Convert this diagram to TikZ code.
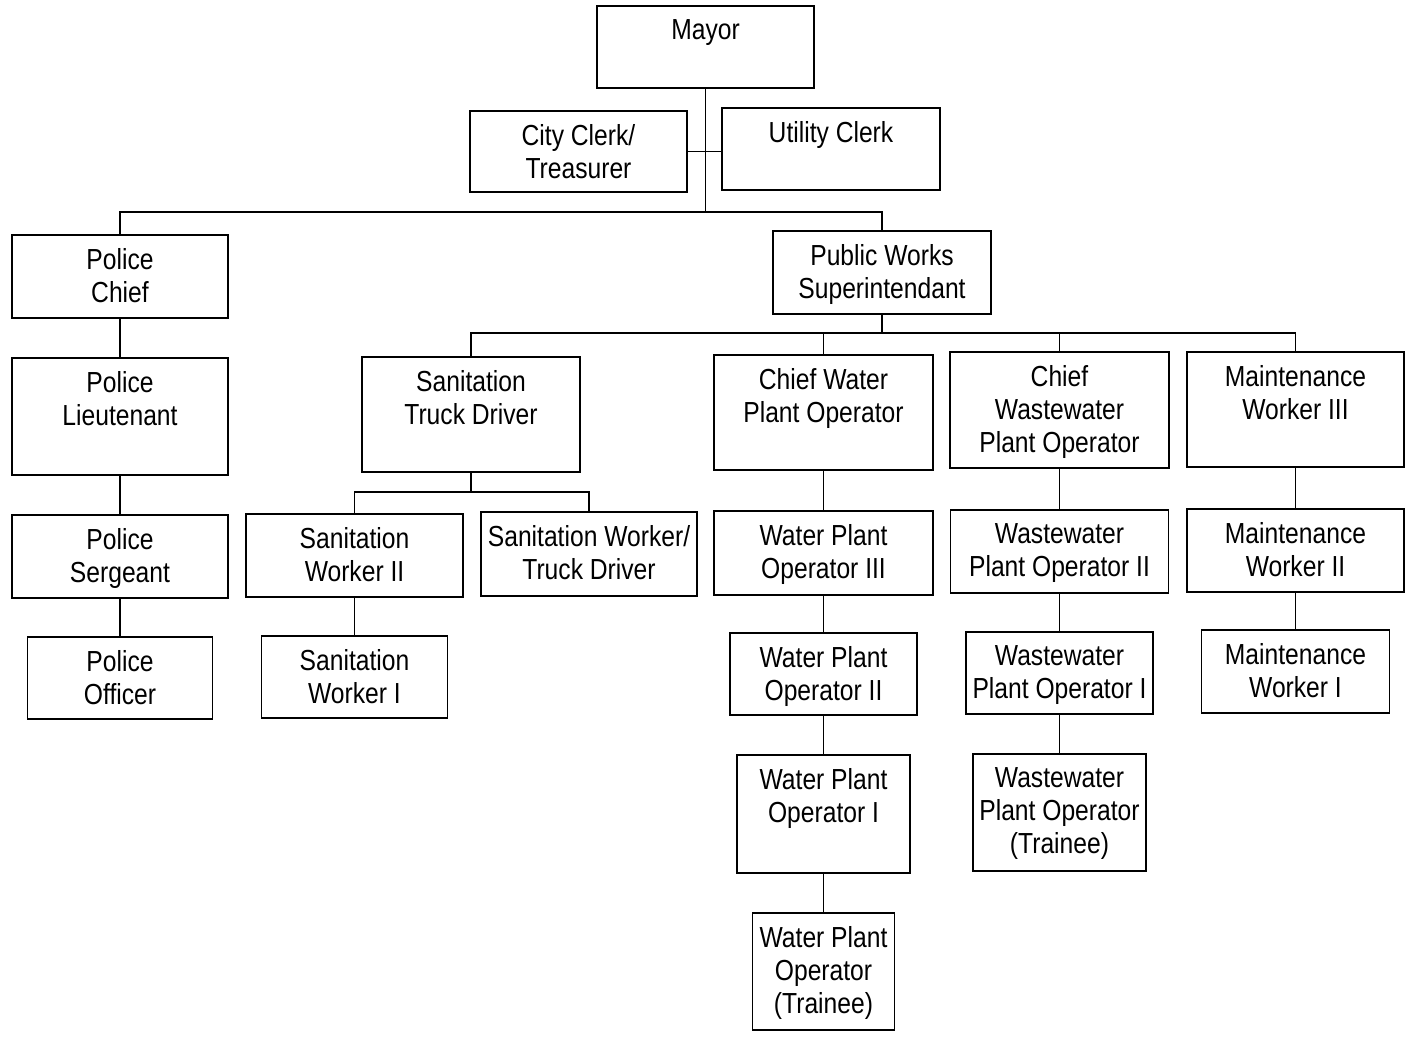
\documentclass[tikz,border=0pt]{standalone}
\usepackage{fontspec}
\setmainfont{Liberation Sans}[FakeStretch=0.85]
\usepackage{tikz}
\tikzset{
  post/.style={draw=black, line width=1.1pt, rectangle, inner sep=0pt},
  lab/.style={anchor=north, inner sep=0pt, yshift=-0.28cm, align=center,
    font=\fontsize{16.5}{18.8}\selectfont},
  link/.style={draw=black, line width=1.1pt},
}

\begin{document}
\begin{tikzpicture}[x=0.02cm, y=-0.02cm]
  \useasboundingbox (0,0) rectangle (1407,1036);

  % top level
  \node[post, minimum width=4.34cm, minimum height=1.64cm,
    label={[lab]north:Mayor}] (mayor) at (705.5,47) {};
  \node[post, minimum width=4.34cm, minimum height=1.62cm,
    label={[lab]north:{City Clerk/\\Treasurer}}] (clerk) at (578.5,151.5) {};
  \node[post, minimum width=4.36cm, minimum height=1.64cm,
    label={[lab]north:Utility Clerk}] (utility) at (831,149) {};

  % police
  \node[post, minimum width=4.32cm, minimum height=1.66cm,
    label={[lab]north:{Police\\Chief}}] (chief) at (120,276.5) {};
  \node[post, minimum width=4.32cm, minimum height=2.34cm,
    label={[lab]north:{Police\\Lieutenant}}] (lieut) at (120,416.5) {};
  \node[post, minimum width=4.32cm, minimum height=1.66cm,
    label={[lab]north:{Police\\Sergeant}}] (sergeant) at (120,556.5) {};
  \node[post, minimum width=3.70cm, minimum height=1.64cm,
    label={[lab]north:{Police\\Officer}}] (officer) at (120,678) {};

  % public works
  \node[post, minimum width=4.36cm, minimum height=1.66cm,
    label={[lab]north:{Public Works\\Superintendant}}] (pws) at (882,272.5) {};

  % sanitation
  \node[post, minimum width=4.36cm, minimum height=2.30cm,
    label={[lab]north:{Sanitation\\Truck Driver}}] (santd) at (471,414.5) {};
  \node[post, minimum width=4.34cm, minimum height=1.66cm,
    label={[lab]north:{Sanitation\\Worker II}}] (sw2) at (354.5,555.5) {};
  \node[post, minimum width=4.32cm, minimum height=1.68cm,
    label={[lab]north:{Sanitation Worker/\\Truck Driver}}] (swtd) at (589,554) {};
  \node[post, minimum width=3.72cm, minimum height=1.64cm,
    label={[lab]north:{Sanitation\\Worker I}}] (sw1) at (354.5,677) {};

  % water
  \node[post, minimum width=4.38cm, minimum height=2.30cm,
    label={[lab]north:{Chief Water\\Plant Operator}}] (cwo) at (823.5,412.5) {};
  \node[post, minimum width=4.38cm, minimum height=1.68cm,
    label={[lab]north:{Water Plant\\Operator III}}] (wpo3) at (823.5,553) {};
  \node[post, minimum width=3.74cm, minimum height=1.64cm,
    label={[lab]north:{Water Plant\\Operator II}}] (wpo2) at (823.5,674) {};
  \node[post, minimum width=3.46cm, minimum height=2.36cm,
    label={[lab]north:{Water Plant\\Operator I}}] (wpo1) at (823.5,814) {};
  \node[post, minimum width=2.84cm, minimum height=2.34cm,
    label={[lab]north:{Water Plant\\Operator\\(Trainee)}}] (wpot) at (823.5,971.5) {};

  % wastewater
  \node[post, minimum width=4.38cm, minimum height=2.32cm,
    label={[lab]north:{Chief\\Wastewater\\Plant Operator}}] (cwwo) at (1059.5,410) {};
  \node[post, minimum width=4.36cm, minimum height=1.66cm,
    label={[lab]north:{Wastewater\\Plant Operator II}}] (wwpo2) at (1059.5,551.5) {};
  \node[post, minimum width=3.74cm, minimum height=1.64cm,
    label={[lab]north:{Wastewater\\Plant Operator I}}] (wwpo1) at (1059.5,673) {};
  \node[post, minimum width=3.46cm, minimum height=2.34cm,
    label={[lab]north:{Wastewater\\Plant Operator\\(Trainee)}}] (wwpot) at (1059.5,812.5) {};

  % maintenance
  \node[post, minimum width=4.34cm, minimum height=2.30cm,
    label={[lab]north:{Maintenance\\Worker III}}] (mw3) at (1295.5,409.5) {};
  \node[post, minimum width=4.34cm, minimum height=1.66cm,
    label={[lab]north:{Maintenance\\Worker II}}] (mw2) at (1295.5,550.5) {};
  \node[post, minimum width=3.76cm, minimum height=1.66cm,
    label={[lab]north:{Maintenance\\Worker I}}] (mw1) at (1295.5,671.5) {};

  % junctions
  \coordinate (jmayor) at (705.5,212);
  \coordinate (jpws) at (882,333);
  \coordinate (jsan) at (471,492);

  \draw[link] (mayor.south) -- (jmayor);
  \draw[link] (clerk.east) -- (clerk.east -| utility.west);
  \draw[link] (chief.north) |- (jmayor);
  \draw[link] (pws.north) |- (jmayor);

  \draw[link] (chief) -- (lieut);
  \draw[link] (lieut) -- (sergeant);
  \draw[link] (sergeant) -- (officer);

  \draw[link] (pws.south) -- (jpws);
  \foreach \n in {santd,cwo,cwwo,mw3}
    \draw[link] (\n.north) |- (jpws);

  \draw[link] (santd.south) -- (jsan);
  \draw[link] (sw2.north) |- (jsan);
  \draw[link] (swtd.north) |- (jsan);
  \draw[link] (sw2) -- (sw1);

  \draw[link] (cwo) -- (wpo3);
  \draw[link] (wpo3) -- (wpo2);
  \draw[link] (wpo2) -- (wpo1);
  \draw[link] (wpo1) -- (wpot);

  \draw[link] (cwwo) -- (wwpo2);
  \draw[link] (wwpo2) -- (wwpo1);
  \draw[link] (wwpo1) -- (wwpot);

  \draw[link] (mw3) -- (mw2);
  \draw[link] (mw2) -- (mw1);
\end{tikzpicture}
\end{document}
